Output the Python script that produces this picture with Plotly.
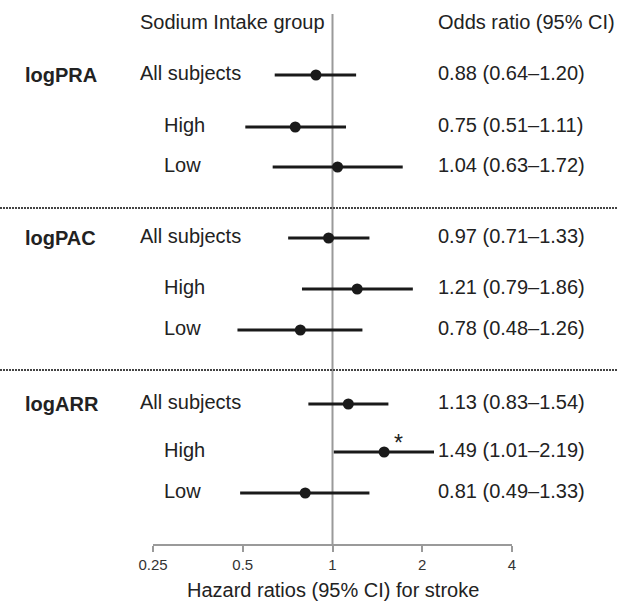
import math
import plotly.graph_objects as go

# ---------------- data ----------------
groups = ["logPRA", "logPAC", "logARR"]
subgroups = ["All subjects", "High", "Low"]
odds = [0.88, 0.75, 1.04, 0.97, 1.21, 0.78, 1.13, 1.49, 0.81]
ci_low = [0.64, 0.51, 0.63, 0.71, 0.79, 0.48, 0.83, 1.01, 0.49]
ci_high = [1.20, 1.11, 1.72, 1.33, 1.86, 1.26, 1.54, 2.19, 1.33]
significant = [False, False, False, False, False, False, False, True, False]
tick_vals = [0.25, 0.5, 1, 2, 4]
tick_text = ["0.25", "0.5", "1", "2", "4"]
header_left = "Sodium Intake group"
header_right = "Odds ratio (95% CI)"
x_title = "Hazard ratios (95% CI) for stroke"

# ---------------- layout helpers ----------------
W, H = 618, 601
L, R = 153, 512          # pixel extent of x axis
T, B = 14, 544           # pixel extent of plot area
# vertical position (in pixel units of the hidden y axis) of each row
row_pos = [75, 127, 167, 238, 289, 330, 404, 452, 493]
sep_pos = [208, 370]
header_pos = 22
text_shift = -2

FONT = "Liberation Sans, Arial, Helvetica, sans-serif"
TXT = "#222222"


def xp(px):
    return (px - L) / (R - L)


fig = go.Figure()

# CI lines
xs, ys = [], []
for lo, hi, y in zip(ci_low, ci_high, row_pos):
    xs += [lo, hi, None]
    ys += [y, y, None]
fig.add_trace(go.Scatter(x=xs, y=ys, mode="lines",
                         line=dict(color="#1a1a1a", width=3),
                         hoverinfo="skip", showlegend=False))
# points
fig.add_trace(go.Scatter(x=odds, y=row_pos, mode="markers",
                         marker=dict(color="#1a1a1a", size=11),
                         showlegend=False))

# reference line at 1
fig.add_shape(type="line", xref="x", yref="paper", x0=1, x1=1, y0=0, y1=1,
              line=dict(color="#9a9a9a", width=2), layer="below")
# dashed separators
for s in sep_pos:
    fig.add_shape(type="line", xref="paper", yref="y",
                  x0=xp(0), x1=xp(W), y0=s, y1=s,
                  line=dict(color="#444444", width=2, dash="2px,1px"))

ann = []
# headers
ann.append(dict(text=header_left, xref="paper", yref="y", x=xp(138), y=header_pos,
                xanchor="left", yanchor="middle", showarrow=False,
                font=dict(family=FONT, size=20, color=TXT)))
ann.append(dict(text=header_right, xref="paper", yref="y", x=xp(436), y=header_pos,
                xanchor="left", yanchor="middle", showarrow=False,
                font=dict(family=FONT, size=20, color=TXT)))

for i, (o, lo, hi, y, sig) in enumerate(zip(odds, ci_low, ci_high, row_pos, significant)):
    g = i // 3
    k = i % 3
    if k == 0:
        ann.append(dict(text="<b>%s</b>" % groups[g], xref="paper", yref="y",
                        x=xp(23), y=y + text_shift + 2, xanchor="left", yanchor="middle",
                        showarrow=False, font=dict(family=FONT, size=20, color=TXT)))
    sx = 138 if k == 0 else 162
    ann.append(dict(text=subgroups[k], xref="paper", yref="y", x=xp(sx), y=y + text_shift,
                    xanchor="left", yanchor="middle", showarrow=False,
                    font=dict(family=FONT, size=20, color=TXT)))
    ann.append(dict(text="%.2f (%.2f\u2013%.2f)" % (o, lo, hi), xref="paper", yref="y",
                    x=xp(436), y=y + text_shift, xanchor="left", yanchor="middle",
                    showarrow=False, font=dict(family=FONT, size=20, color=TXT)))
    if sig:
        ann.append(dict(text="*", xref="x", yref="y", x=math.log10(o), y=y,
                        xshift=14, yshift=9,
                        xanchor="center", yanchor="middle", showarrow=False,
                        font=dict(family=FONT, size=23, color=TXT)))

ann.append(dict(text=x_title, xref="paper", yref="paper", x=0.5, y=-(590 - B) / (B - T),
                xanchor="center", yanchor="middle", showarrow=False,
                font=dict(family=FONT, size=20, color=TXT)))

fig.update_layout(
    width=W, height=H,
    margin=dict(l=L, r=W - R, t=T, b=H - B, pad=0),
    paper_bgcolor="white", plot_bgcolor="white",
    annotations=ann,
    xaxis=dict(type="log", range=[math.log10(0.25), math.log10(4)],
               tickvals=tick_vals, ticktext=tick_text,
               showline=True, linecolor="#9a9a9a", linewidth=2,
               ticks="outside", ticklen=6, tickwidth=2, tickcolor="#9a9a9a",
               showgrid=False, zeroline=False,
               tickfont=dict(family=FONT, size=15, color="#333333")),
    yaxis=dict(range=[B, T], visible=False, showgrid=False, zeroline=False),
)

fig.write_html("out.html", config={"displayModeBar": False},
               post_script="document.body.style.margin='0px';")
